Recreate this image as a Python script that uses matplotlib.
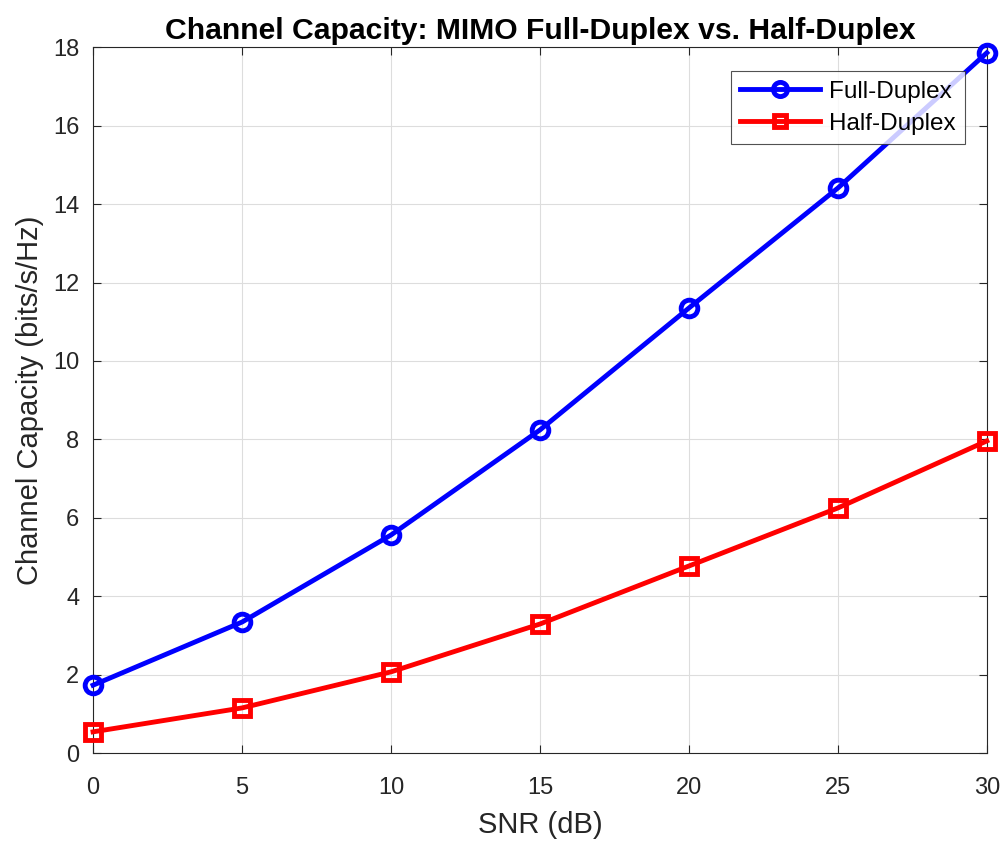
import matplotlib
matplotlib.use("Agg")
import matplotlib.pyplot as plt

plt.rcParams['font.family'] = ['Liberation Sans', 'DejaVu Sans']

snr = [0, 5, 10, 15, 20, 25, 30]
full_duplex = [1.73, 3.34, 5.56, 8.24, 11.35, 14.41, 17.86]
half_duplex = [0.54, 1.15, 2.07, 3.29, 4.77, 6.25, 7.96]

fig = plt.figure(figsize=(10.07, 8.44), dpi=100)
ax = fig.add_axes([0.0924, 0.1078, 0.8876, 0.8362])

ax.plot(snr, full_duplex, color='#0000ff', linewidth=3.5, marker='o', markersize=12,
        markerfacecolor='none', markeredgewidth=3.5, label='Full-Duplex', clip_on=False, zorder=3)
ax.plot(snr, half_duplex, color='#ff0000', linewidth=3.5, marker='s', markersize=11,
        markerfacecolor='none', markeredgewidth=3.5, label='Half-Duplex', clip_on=False, zorder=3)

ax.set_xlim(0, 30)
ax.set_ylim(0, 18)
ax.set_xticks(range(0, 31, 5))
ax.set_yticks(range(0, 19, 2))
ax.grid(True, color='#dddddd', linewidth=0.8)
ax.set_axisbelow(True)
for s in ax.spines.values():
    s.set_color('#262626')
    s.set_linewidth(0.8)
ax.tick_params(labelsize=17, colors='#262626', direction='in', length=6,
               top=True, right=True)
ax.tick_params(axis='x', pad=17)
ax.tick_params(axis='y', pad=10)

ax.set_xlabel('SNR (dB)', fontsize=21, color='#262626', labelpad=9)
ax.set_ylabel('Channel Capacity (bits/s/Hz)', fontsize=21, color='#262626', labelpad=6)
ax.set_title('Channel Capacity: MIMO Full-Duplex vs. Half-Duplex', fontsize=21.7,
             fontweight='bold', pad=6)

leg = ax.legend(loc='upper right', fontsize=17.5, frameon=True, fancybox=False,
                edgecolor='#262626', handlelength=3.3, borderpad=0.38, labelspacing=0.42,
                handletextpad=0.35, borderaxespad=0, bbox_to_anchor=(0.975, 0.966),
                markerscale=0.85)
leg.get_frame().set_linewidth(0.8)

fig.savefig('out.png', dpi=100)
